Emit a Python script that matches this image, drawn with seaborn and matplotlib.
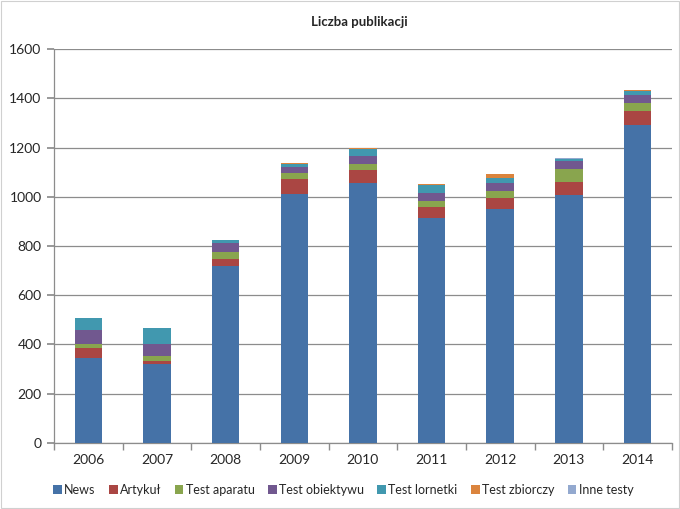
import numpy as np
import pandas as pd
import matplotlib
matplotlib.use("Agg")
import matplotlib.pyplot as plt
from matplotlib.patches import Patch
import seaborn as sns

years = ["2006", "2007", "2008", "2009", "2010", "2011", "2012", "2013", "2014"]
series_names = ["News", "Artykuł", "Test aparatu", "Test obiektywu",
                "Test lornetki", "Test zbiorczy", "Inne testy"]
news = [347, 320, 718, 1010, 1055, 913, 951, 1009, 1290]
artykul = [38, 11, 30, 64, 52, 44, 45, 51, 57]
test_aparatu = [18, 24, 26, 23, 28, 27, 28, 53, 33]
test_obiektywu = [54, 45, 39, 25, 30, 31, 33, 34, 34]
test_lornetki = [50, 65, 11, 12, 27, 32, 20, 6, 14]
test_zbiorczy = [0, 0, 0, 4, 5, 3, 14, 2, 4]
inne_testy = [0, 0, 2, 1, 0, 1, 0, 2, 1]
colors = ["#4572A7", "#AA4643", "#89A54E", "#71588F", "#4198AF", "#DB843D", "#93A9CF"]

values = [news, artykul, test_aparatu, test_obiektywu, test_lornetki, test_zbiorczy, inne_testy]
cum = np.cumsum(np.array(values, dtype=float), axis=0)

sns.set_theme(style="white")
plt.rcParams["font.family"] = ["Lato", "DejaVu Sans"]

fig = plt.figure(figsize=(6.8, 5.09), dpi=100)
ax = fig.add_axes([0.0794, 0.1297, 0.9086, 0.774])

for i in reversed(range(len(series_names))):
    df = pd.DataFrame({"Rok": years, "Wartość": cum[i]})
    sns.barplot(data=df, x="Rok", y="Wartość", color=colors[i], width=0.4,
                saturation=1, ax=ax, zorder=3, linewidth=0)

ax.set_ylim(0, 1600)
ax.set_xlim(-0.5, len(years) - 0.5)
ax.set_yticks(np.arange(0, 1601, 200))
ax.yaxis.grid(True, color="#8c8c8c", linewidth=0.9)
ax.set_axisbelow(True)
ax.set_xlabel("")
ax.set_ylabel("")
for s in ["top", "right"]:
    ax.spines[s].set_visible(False)
for s in ["left", "bottom"]:
    ax.spines[s].set_color("#8c8c8c")
    ax.spines[s].set_linewidth(0.9)
ax.tick_params(axis="y", length=5, color="#8c8c8c", labelsize=10, pad=4, left=True)
ax.tick_params(axis="x", length=0, labelsize=10, pad=8)
ax.set_xticks(np.arange(-0.5, len(years) - 0.4, 1.0), minor=True)
ax.tick_params(axis="x", which="minor", length=5, color="#8c8c8c", bottom=True, direction="out")

fig.text(0.528, 0.957, "Liczba publikacji", ha="center", va="center",
         fontsize=9.5, fontweight="bold")

handles = [Patch(facecolor=c, edgecolor="none", label=n) for n, c in zip(series_names, colors)]
fig.legend(handles=handles, loc="center", bbox_to_anchor=(0.505, 0.038), ncol=7,
           frameon=False, fontsize=9, handlelength=0.7, handleheight=0.7,
           handletextpad=0.2, columnspacing=1.05)

border = plt.Rectangle((0.002, 0.002), 0.996, 0.996, transform=fig.transFigure,
                       fill=False, edgecolor="#d0d0d0", linewidth=0.8)
fig.patches.append(border)

fig.savefig("out.png", dpi=100)
